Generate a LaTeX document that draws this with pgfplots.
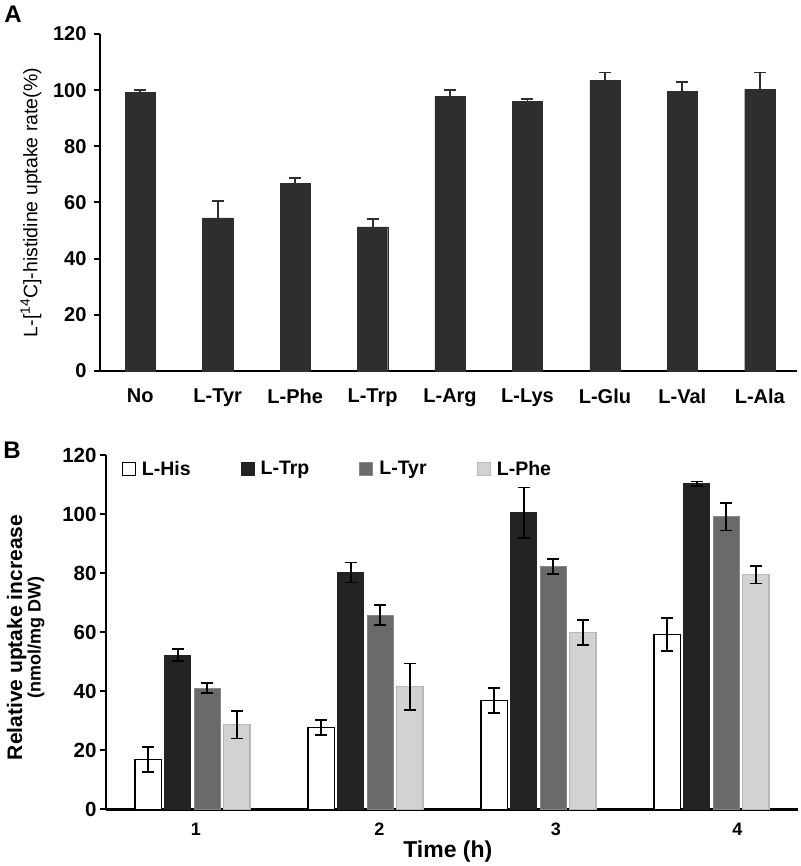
\documentclass[border=0pt]{standalone}
\usepackage{pgfplots}
\pgfplotsset{compat=1.18}
\usepackage{fontspec}
\setmainfont{Liberation Sans}
\newcommand\fs[1]{\fontsize{#1}{#1}\selectfont}
\definecolor{barA}{HTML}{2E2E2E}
\definecolor{cTrp}{HTML}{232323}
\definecolor{cTyr}{HTML}{6A6A6A}
\definecolor{cPhe}{HTML}{D2D2D2}
\definecolor{cPheD}{HTML}{B8B8B8}
\pgfplotstableread{
x y e
0 99.3 0.8
1 54.5 6.0
2 66.7 1.9
3 51.3 2.7
4 97.9 2.2
5 95.9 0.9
6 103.6 2.7
7 99.5 3.5
8 100.3 6.0
}\tabA
\pgfplotstableread{
x y e
1 16.8 4.3
2 27.8 2.5
3 36.9 4.3
4 59.2 5.5
}\tabHis
\pgfplotstableread{
x y e
1 52.2 2.0
2 80.2 3.4
3 100.5 8.5
4 110.3 0.7
}\tabTrp
\pgfplotstableread{
x y e
1 41.0 1.7
2 65.8 3.5
3 82.2 2.5
4 99.1 4.7
}\tabTyr
\pgfplotstableread{
x y e
1 28.6 4.6
2 41.5 7.9
3 59.9 4.3
4 79.5 3.0
}\tabPhe
\begin{document}
\begin{tikzpicture}[x=1pt,y=1pt]
\useasboundingbox (0,0) rectangle (800,866);
\node[font=\fs{24}\bfseries] at (13,852) {A};
\node[font=\fs{24}\bfseries] at (12,416) {B};

\begin{axis}[
  at={(100pt,495pt)}, anchor=south west,
  scale only axis, width=697pt, height=337pt,
  xmin=-0.52, xmax=8.48, ymin=0, ymax=120,
  axis x line*=bottom, axis y line*=left,
  axis line style={line width=2.5pt, black},
  ybar, bar width=0.39,
  xtick={0,...,8},
  xticklabels={No,L-Tyr,L-Phe,L-Trp,L-Arg,L-Lys,L-Glu,L-Val,L-Ala},
  x tick style={draw=none},
  ytick={0,20,...,120},
  y tick style={line width=2pt, black},
  tick align=outside, major tick length=6pt,
  /pgf/number format/assume math mode=true,
  ticklabel style={font=\fs{20}\bfseries},
  yticklabel style={xshift=-4pt},
  xticklabel style={yshift=-8pt},
  ylabel={L-[\textsuperscript{14}C]-histidine uptake rate(\%)},
  ylabel style={font=\fs{19.5}, at={(axis description cs:-0.099,0.5)}, anchor=center},
  clip=false,
]
\addplot[fill=barA, draw=barA,
  error bars/.cd, y dir=plus, y explicit,
  error bar style={line width=1.8pt, barA},
  error mark options={rotate=90, mark size=6pt, line width=1.8pt, barA}]
  table[x=x, y=y, y error=e]{\tabA};
\end{axis}

\begin{axis}[
  at={(106pt,56.7pt)}, anchor=south west,
  scale only axis, width=692pt, height=354.3pt,
  xmin=0.5, xmax=4.5, ymin=0, ymax=120,
  axis x line*=bottom, axis y line*=left,
  axis line style={line width=2.5pt, black},
  ybar, bar width=0.153,
  xtick={1.02,2.08,3.1,4.15},
  xticklabels={1,2,3,4},
  x tick style={draw=none},
  ytick={0,20,...,120},
  y tick style={line width=2pt, black},
  tick align=outside, major tick length=6pt,
  /pgf/number format/assume math mode=true,
  yticklabel style={font=\fs{20.5}\bfseries},
  xticklabel style={font=\fs{18}\bfseries, yshift=-4pt},
  xlabel={Time (h)},
  xlabel style={font=\fs{23}\bfseries, at={(axis description cs:0.494,-0.1205)}, anchor=center},
  ylabel={\fontsize{21}{25}\selectfont Relative uptake increase\\\fs{18}(nmol/mg DW)},
  ylabel style={font=\bfseries, align=center, at={(axis description cs:-0.116,0.485)}, anchor=center},
  legend columns=4,
  legend style={at={(axis description cs:0.018,0.995)}, anchor=north west,
    draw=none, fill=none, font=\fs{19.5}\bfseries,
    /tikz/every odd column/.append style={column sep=4pt},
    /tikz/every even column/.append style={column sep=48pt}},
  legend image code/.code={\draw[#1] (0pt,-6.5pt) rectangle (13pt,6.5pt);},
  clip=false,
]
\addplot[fill=white, draw=black, line width=1.2pt, bar shift=-0.256,
  error bars/.cd, y dir=both, y explicit,
  error bar style={line width=1.8pt, black},
  error mark options={rotate=90, mark size=6pt, line width=1.8pt, black}]
  table[x=x, y=y, y error=e]{\tabHis};
\addlegendentry{L-His}
\addplot[fill=cTrp, draw=cTrp, line width=1pt, bar shift=-0.0853,
  error bars/.cd, y dir=both, y explicit,
  error bar style={line width=1.8pt, black},
  error mark options={rotate=90, mark size=6pt, line width=1.8pt, black}]
  table[x=x, y=y, y error=e]{\tabTrp};
\addlegendentry{L-Trp}
\addplot[fill=cTyr, draw=cTyr!80!white, line width=1pt, bar shift=0.0853,
  error bars/.cd, y dir=both, y explicit,
  error bar style={line width=1.8pt, black},
  error mark options={rotate=90, mark size=6pt, line width=1.8pt, black}]
  table[x=x, y=y, y error=e]{\tabTyr};
\addlegendentry{L-Tyr}
\addplot[fill=cPhe, draw=cPheD, line width=1.2pt, bar shift=0.256,
  error bars/.cd, y dir=both, y explicit,
  error bar style={line width=1.8pt, black},
  error mark options={rotate=90, mark size=6pt, line width=1.8pt, black}]
  table[x=x, y=y, y error=e]{\tabPhe};
\addlegendentry{L-Phe}
\end{axis}
\end{tikzpicture}
\end{document}
